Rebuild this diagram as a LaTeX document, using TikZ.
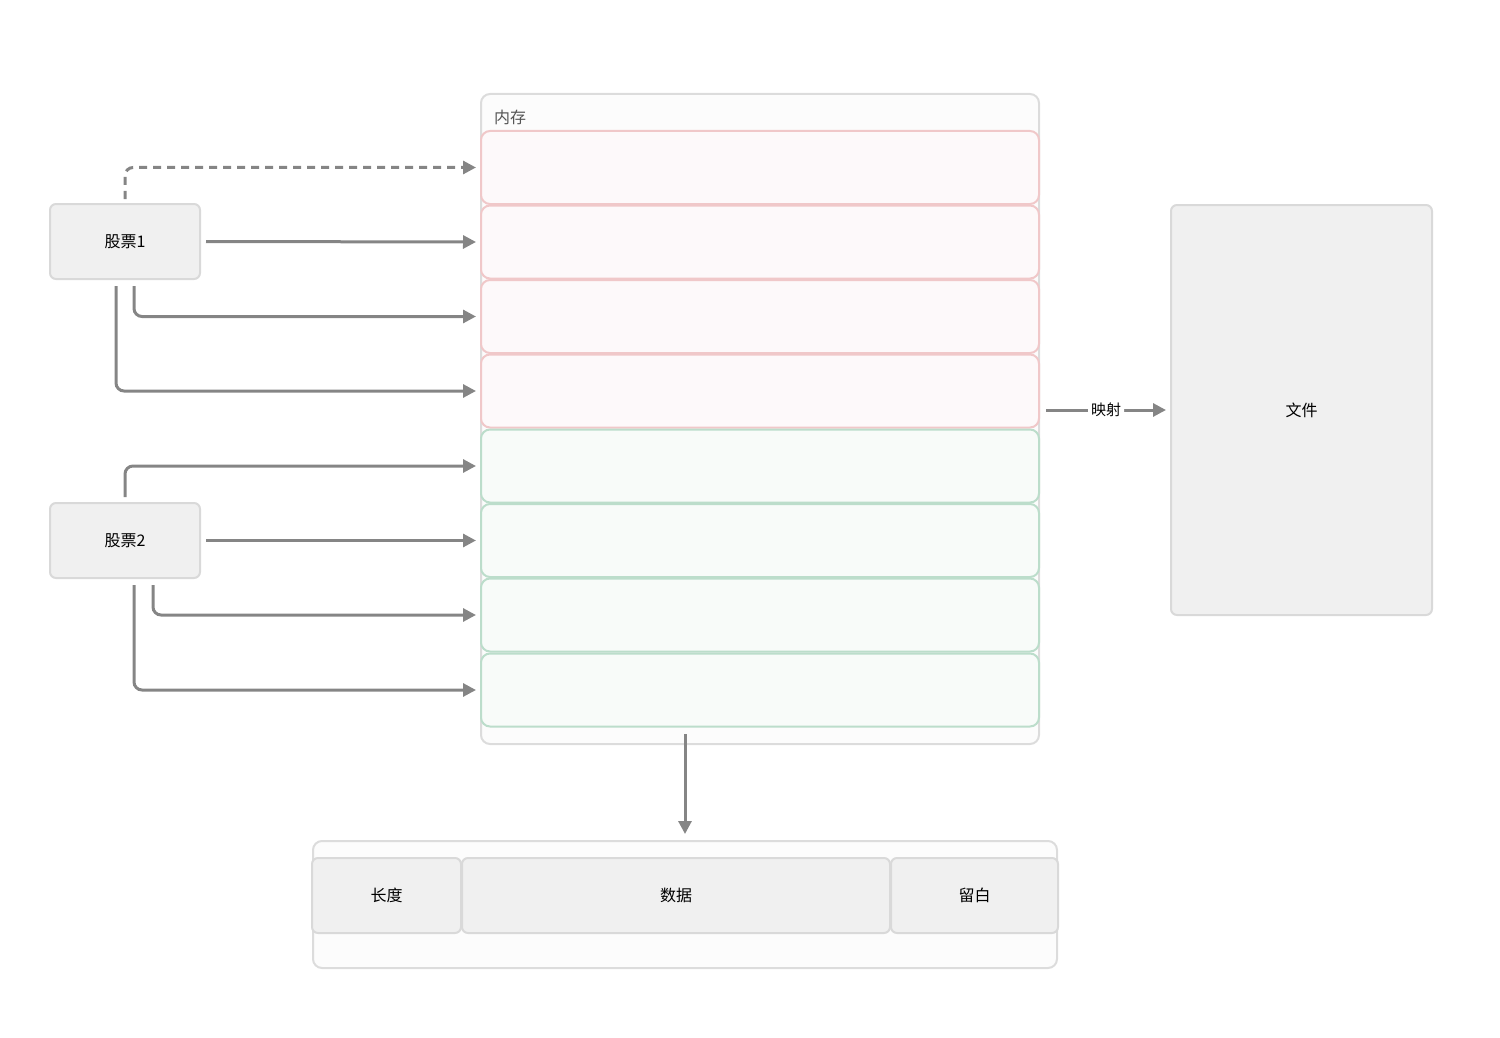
\documentclass[tikz,border=0pt]{standalone}
\usepackage{fontspec}
\setmainfont{Noto Sans CJK SC}
\usetikzlibrary{arrows.meta}
\definecolor{arrgray}{HTML}{858585}
\definecolor{boxfill}{HTML}{F0F0F0}
\definecolor{boxline}{HTML}{D9D9D9}
\definecolor{memfill}{HTML}{FCFCFC}
\definecolor{memline}{HTML}{DCDCDC}
\definecolor{pinkline}{HTML}{F0C8C9}
\definecolor{pinkfill}{HTML}{FDF9FA}
\definecolor{greenline}{HTML}{BCDDCB}
\definecolor{greenfill}{HTML}{F8FBF9}
\definecolor{labgray}{HTML}{555555}
\tikzset{
  graybox/.style={draw=boxline, fill=boxfill, line width=2pt, rounded corners=6pt, inner sep=0pt, font=\fontsize{16}{19}\selectfont},
  outerbox/.style={draw=memline, fill=memfill, line width=2pt, rounded corners=9pt, inner sep=0pt},
  pinkrow/.style={draw=pinkline, fill=pinkfill, line width=2pt, rounded corners=9pt, inner sep=0pt, minimum width=558pt, minimum height=73pt},
  greenrow/.style={draw=greenline, fill=greenfill, line width=2pt, rounded corners=9pt, inner sep=0pt, minimum width=558pt, minimum height=73pt},
  arr/.style={draw=arrgray, line width=3pt, rounded corners=8pt, -{Triangle[length=13pt,width=13pt]}},
}
\begin{document}
\begin{tikzpicture}[x=1pt,y=-1pt]
\useasboundingbox (0,0) rectangle (1500,1038);
% memory box
\node[outerbox, minimum width=558pt, minimum height=650pt] (mem) at (760,419) {};
\node[anchor=west, text=labgray, font=\fontsize{16}{18}\selectfont, inner sep=0pt] (memlab) at (494,117) {内存};
\node[pinkrow] (m1) at (760,167.5) {};
\node[pinkrow] (m2) at (760,242) {};
\node[pinkrow] (m3) at (760,316.5) {};
\node[pinkrow] (m4) at (760,391) {};
\node[greenrow] (m5) at (760,466) {};
\node[greenrow] (m6) at (760,540.5) {};
\node[greenrow] (m7) at (760,615) {};
\node[greenrow] (m8) at (760,690) {};
% stocks
\node[graybox, minimum width=150pt, minimum height=75pt] (s1) at (125,241.5) {股票1};
\node[graybox, minimum width=150pt, minimum height=75pt] (s2) at (125,540.5) {股票2};
% file
\node[graybox, minimum width=261pt, minimum height=410pt] (file) at (1301.5,410) {};
\node[font=\fontsize{16}{19}\selectfont, inner sep=0pt] (filelab) at (1301.5,410) {文件};
% bottom structure
\node[outerbox, minimum width=744pt, minimum height=127pt] (bot) at (685,904.5) {};
\node[graybox, minimum width=149pt, minimum height=75pt] (len) at (386.5,895.5) {长度};
\node[graybox, minimum width=428pt, minimum height=75pt] (data) at (676,895.5) {数据};
\node[graybox, minimum width=167pt, minimum height=75pt] (pad) at (974.5,895.5) {留白};
% stock 1 arrows
\draw[arr, dash pattern=on 8pt off 6pt] ([yshift=4pt]s1.north) |- ([xshift=-4pt]m1.west);
\draw[arr] ([xshift=5pt]s1.east) -- ([xshift=-4pt]m2.west);
\draw[arr] ([xshift=9pt,yshift=-6pt]s1.south) |- ([xshift=-4pt]m3.west);
\draw[arr] ([xshift=-9pt,yshift=-6pt]s1.south) |- ([xshift=-4pt]m4.west);
% stock 2 arrows
\draw[arr] ([yshift=5pt]s2.north) |- ([xshift=-4pt]m5.west);
\draw[arr] ([xshift=5pt]s2.east) -- ([xshift=-4pt]m6.west);
\draw[arr] ([xshift=28pt,yshift=-6pt]s2.south) |- ([xshift=-4pt]m7.west);
\draw[arr] ([xshift=9pt,yshift=-6pt]s2.south) |- ([xshift=-4pt]m8.west);
% mapping
\draw[arr] ([xshift=6pt]mem.east |- file.west) -- node[fill=white, inner sep=3pt, font=\fontsize{15}{17}\selectfont, text=black] (maplab) {映射} ([xshift=-4pt]file.west);
% down arrow
\draw[arr] ([yshift=11pt]bot.north |- mem.south) -- ([yshift=6pt]bot.north);
\end{tikzpicture}
\end{document}
